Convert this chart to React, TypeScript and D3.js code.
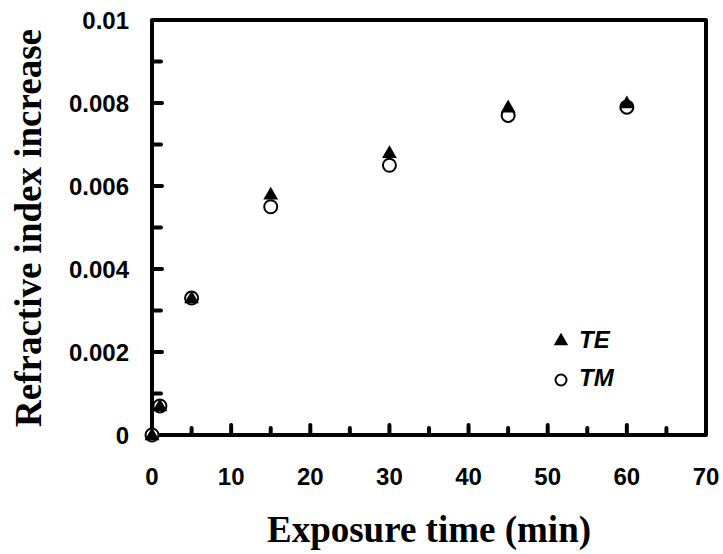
import React from "react";
import * as d3 from "d3";

const timesTE = [0, 1, 5, 15, 30, 45, 60];
const valuesTE = [0, 0.0007, 0.0033, 0.0058, 0.0068, 0.0079, 0.008];
const timesTM = [0, 1, 5, 15, 30, 45, 60];
const valuesTM = [0, 0.0007, 0.0033, 0.0055, 0.0065, 0.0077, 0.0079];
const xTickLabels = [0, 10, 20, 30, 40, 50, 60, 70];
const yTickLabels = [0, 0.002, 0.004, 0.006, 0.008, 0.01];
const xMinorTicks = [5, 15, 25, 35, 45, 55, 65];
const yMinorTicks = [0.001, 0.003, 0.005, 0.007, 0.009];
const legendNames = ["TE", "TM"];

const W = 723;
const H = 554;
const L = 152, R = 706, T = 20, B = 435;

export default function App() {
  const x = d3.scaleLinear().domain([0, 70]).range([L, R]);
  const y = d3.scaleLinear().domain([0, 0.01]).range([B, T]);
  const tri = d3.symbol().type(d3.symbolTriangle).size(95)() as string;
  const triLeg = d3.symbol().type(d3.symbolTriangle).size(90)() as string;
  const yFmt = (v: number) => (v === 0 ? "0" : v === 0.01 ? "0.01" : d3.format(".3f")(v));
  const tickFont = { fontFamily: "Arial, 'Liberation Sans', sans-serif", fontWeight: 700, fontSize: 24 };
  const titleFont = { fontFamily: "'Times New Roman', 'Liberation Serif', serif", fontWeight: 700, fontSize: 37 };
  return (
    <svg width={W} height={H} style={{ position: "absolute", left: 0, top: 0, background: "#fff" }}>
      {/* ticks */}
      {xTickLabels.slice(1, -1).map((t) => (
        <line key={"xt" + t} x1={x(t)} x2={x(t)} y1={B} y2={B - 10} stroke="#000" strokeWidth={4} strokeLinecap="round" />
      ))}
      {xMinorTicks.map((t) => (
        <line key={"xm" + t} x1={x(t)} x2={x(t)} y1={B} y2={B - 7} stroke="#000" strokeWidth={4} strokeLinecap="round" />
      ))}
      {yTickLabels.slice(1, -1).map((t) => (
        <line key={"yt" + t} x1={L} x2={L + 10} y1={y(t)} y2={y(t)} stroke="#000" strokeWidth={4} strokeLinecap="round" />
      ))}
      {yMinorTicks.map((t) => (
        <line key={"ym" + t} x1={L} x2={L + 9} y1={y(t)} y2={y(t)} stroke="#000" strokeWidth={4} strokeLinecap="round" />
      ))}
      {/* frame */}
      <rect x={L} y={T} width={R - L} height={B - T} fill="none" stroke="#000" strokeWidth={4} strokeLinejoin="round" />
      {/* tick labels */}
      {xTickLabels.map((t) => (
        <text key={"xl" + t} x={x(t)} y={485} textAnchor="middle" style={tickFont}>
          {t}
        </text>
      ))}
      {yTickLabels.map((t) => (
        <text key={"yl" + t} x={129} y={y(t) + 8.5} textAnchor="end" style={tickFont}>
          {yFmt(t)}
        </text>
      ))}
      {/* data: circles first, triangles on top */}
      {timesTM.map((t, i) => (
        <circle key={"tm" + i} cx={x(t)} cy={y(valuesTM[i])} r={6.5} fill="#fff" stroke="#000" strokeWidth={2} />
      ))}
      {timesTE.map((t, i) => (
        <path key={"te" + i} d={tri} transform={`translate(${x(t)},${y(valuesTE[i]) + 1})`} fill="#000" />
      ))}
      {/* legend */}
      <path d={triLeg} transform="translate(561,341)" fill="#000" />
      <text x={579} y={348} style={{ ...tickFont, fontStyle: "italic", fontSize: 24 }}>
        {legendNames[0]}
      </text>
      <circle cx={561} cy={380} r={5.5} fill="#fff" stroke="#000" strokeWidth={2} />
      <text x={579} y={386} style={{ ...tickFont, fontStyle: "italic", fontSize: 24 }}>
        {legendNames[1]}
      </text>
      {/* axis titles */}
      <text x={429} y={542} textAnchor="middle" style={titleFont}>
        Exposure time (min)
      </text>
      <text transform="translate(41,228) rotate(-90)" textAnchor="middle" style={titleFont}>
        Refractive index increase
      </text>
    </svg>
  );
}
